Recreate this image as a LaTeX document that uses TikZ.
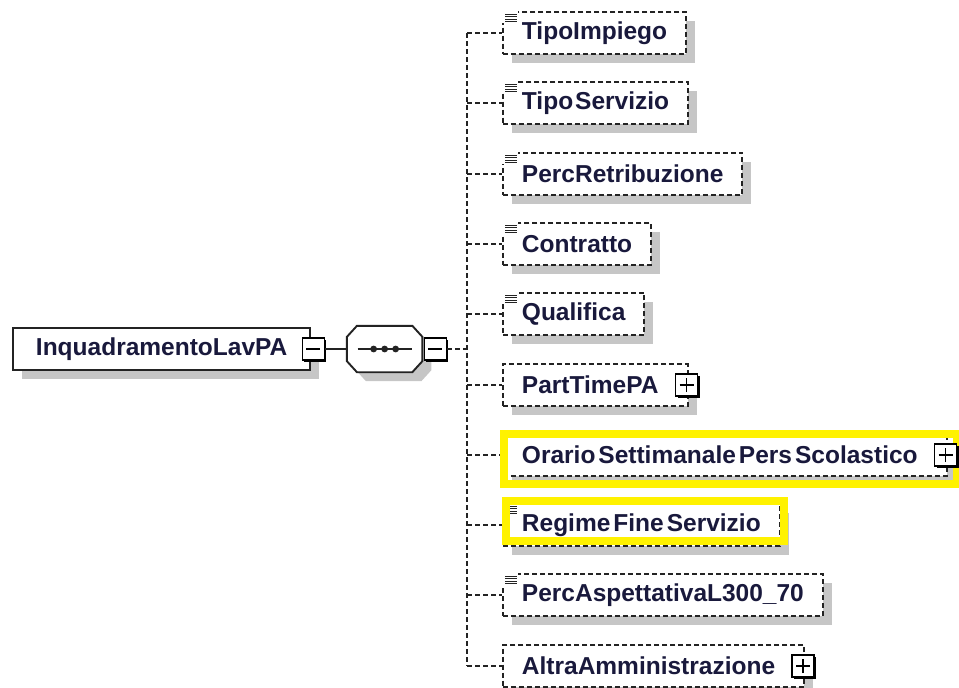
\documentclass[tikz,border=0pt]{standalone}
\usepackage{fontspec}
\setmainfont{Liberation Sans}
\usetikzlibrary{shadows,positioning}
\definecolor{xsdtext}{RGB}{25,25,60}
\definecolor{xsdline}{RGB}{35,35,35}
\definecolor{xsdshadow}{RGB}{198,198,198}
\definecolor{hilite}{RGB}{255,242,0}
\tikzset{
  elem/.style={draw=xsdline, line width=1.9pt, fill=white, anchor=west,
    minimum height=42pt, inner xsep=19pt, inner ysep=0pt, text=xsdtext,
    font=\fontsize{24.5}{29}\selectfont\bfseries,
    drop shadow={shadow xshift=9pt, shadow yshift=-9pt, opacity=1, fill=xsdshadow}},
  rootelem/.style={elem, inner xsep=23pt},
  optelem/.style={elem, dash pattern=on 5pt off 3pt},
  leaf/.style={},
  branch/.style={execute at end node={\hspace*{10pt}}},
  btn/.style={draw=black, line width=1.3pt, fill=white, minimum size=22pt, inner sep=0pt,
    drop shadow={shadow xshift=2pt, shadow yshift=-2pt, opacity=1, fill=black}},
  btnminus/.style={btn, path picture={
    \draw[line width=1.3pt] ([xshift=-7pt]path picture bounding box.center) -- ([xshift=7pt]path picture bounding box.center);}},
  btnplus/.style={btn, path picture={
    \draw[line width=1.3pt] ([xshift=-7pt]path picture bounding box.center) -- ([xshift=7pt]path picture bounding box.center);
    \draw[line width=1.3pt] ([yshift=-7pt]path picture bounding box.center) -- ([yshift=7pt]path picture bounding box.center);}},
  seqbox/.style={rectangle, minimum width=75pt, minimum height=46pt, inner sep=0pt},
  % octagon outline round node seq, shifted by #1
  octpath/.style={insert path={
    ([shift={(10+#1,#1)}]seq.north west) -- ([shift={(-10+#1,#1)}]seq.north east)
    -- ([shift={(#1,11+#1)}]seq.north east) -- ([shift={(#1,-11+#1)}]seq.south east)
    -- ([shift={(-10+#1,#1)}]seq.south east) -- ([shift={(10+#1,#1)}]seq.south west)
    -- ([shift={(#1,-11+#1)}]seq.south west) -- ([shift={(#1,11+#1)}]seq.north west) -- cycle}},
  link/.style={draw=xsdline, line width=1.9pt},
  dlink/.style={link, dash pattern=on 5pt off 3pt},
  highlight/.style={draw=hilite, line width=8pt}
}

\begin{document}
\begin{tikzpicture}[x=1pt,y=-1pt]
\useasboundingbox (0,0) rectangle (959,688);

% root element and sequence
\node[rootelem] (root) at (12,349) {InquadramentoLavPA};
\node[btnminus] (rootbtn) at ([xshift=2pt]root.east) {};
\node[seqbox, right=22pt of rootbtn] (seq) {};
\fill[xsdshadow, octpath=9];
\path[link, fill=white, octpath=0];
\node[btnminus] (seqbtn) at ([xshift=13pt]seq.east) {};
\draw[link] (rootbtn.east) -- (seq.west);
\draw[link] ([xshift=-27pt]seq.center) -- ([xshift=27pt]seq.center);
\foreach \dx in {-11,0,11}{
  \fill[xsdline] ([xshift=\dx pt]seq.center) circle (3.4pt);
}
\coordinate (trunk) at (467,349);
\draw[dlink] (seqbtn.east) -- (trunk);

% children
\foreach \i/\lab/\kind in {1/TipoImpiego/leaf, 2/{Tipo\kern2pt Servizio}/leaf,
    3/PercRetribuzione/leaf, 4/Contratto/leaf, 5/Qualifica/leaf, 6/PartTimePA/branch,
    7/{Orario\kern3pt Settimanale\kern3pt Pers\kern3pt Scolastico}/branch,
    8/{Regime\kern3pt Fine\kern3pt Servizio}/leaf, 9/PercAspettativaL300\_70/leaf,
    10/AltraAmministrazione/branch}{
  \pgfmathsetmacro\yy{round(33+70.3*(\i-1))}
  \node[optelem,\kind] (c\i) at (502,\yy) {\lab};
  \draw[dlink] (trunk |- c\i.west) -- (c\i.west);
}
\draw[dlink] (trunk |- c1.west) -- (trunk |- c10.west);

% simple-content icons
\foreach \n in {1,2,3,4,5,8,9}{
  \fill[white] ([shift={(-1,-1)}]c\n.north west) rectangle ++(17,13);
  \foreach \dy in {3,5.5,8,10.5}{
    \draw[xsdline, line width=1pt] ([shift={(3,\dy)}]c\n.north west) -- ++(12,0);
  }
}

% highlighted children
\draw[highlight] (504,434) rectangle (957,484);
\draw[highlight] (506,501) rectangle (784,541);

% expand buttons
\foreach \n in {6,7,10}{
  \node[btnplus] (b\n) at ([xshift=-2pt]c\n.east) {};
}
\end{tikzpicture}
\end{document}
